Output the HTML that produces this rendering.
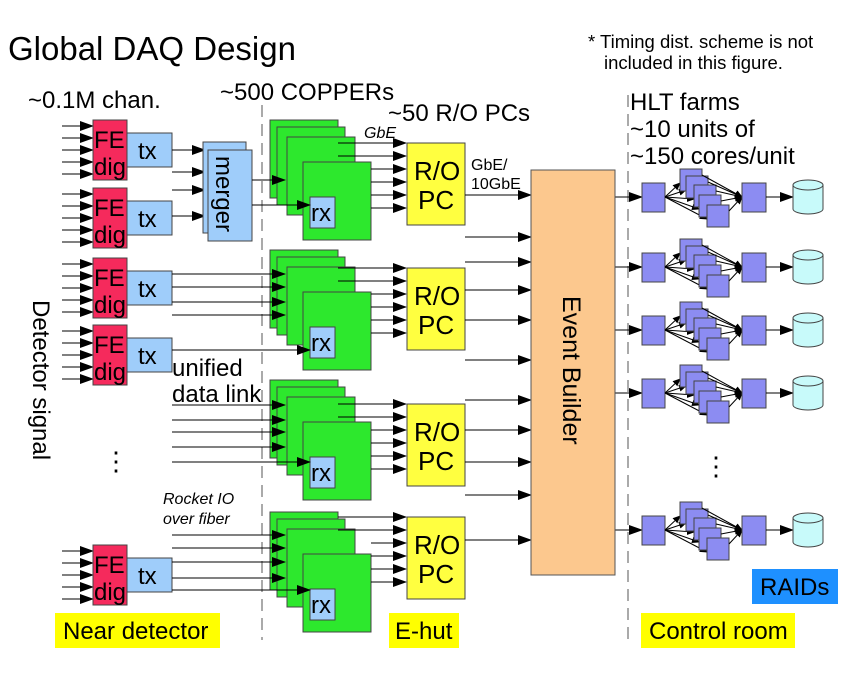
<!DOCTYPE html>
<html><head><meta charset="utf-8"><style>
body{margin:0;background:#fff;width:865px;height:671px;overflow:hidden}
svg{font-family:"Liberation Sans",sans-serif}
</style></head><body>
<svg id="s" width="865" height="671" viewBox="0 0 865 671" xmlns="http://www.w3.org/2000/svg">
<defs><marker id="a" markerWidth="8" markerHeight="8" refX="7" refY="4" orient="auto" markerUnits="userSpaceOnUse"><path d="M0,0.5 L8,4 L0,7.5z" fill="#000"/></marker>
<marker id="b" markerWidth="14" markerHeight="10" refX="13" refY="5" orient="auto" markerUnits="userSpaceOnUse"><path d="M0,0 L14,5 L0,10z" fill="#000"/></marker></defs>
<g id="g"></g>
<text x="8" y="60" font-size="33">Global DAQ Design</text>
<text x="588" y="48" font-size="18.5">* Timing dist. scheme is not</text>
<text x="604" y="69" font-size="18.5">included in this figure.</text>
<text x="28" y="108" font-size="24">~0.1M chan.</text>
<text x="220" y="100" font-size="24">~500 COPPERs</text>
<text x="388" y="121" font-size="24">~50 R/O PCs</text>
<text x="364" y="138" font-size="16" font-style="italic">GbE</text>
<text x="471" y="170" font-size="16">GbE/</text>
<text x="471" y="189" font-size="16">10GbE</text>
<text x="630" y="110" font-size="24">HLT farms</text>
<text x="630" y="137" font-size="24">~10 units of</text>
<text x="630" y="164" font-size="24">~150 cores/unit</text>
<text x="172" y="376" font-size="24">unified</text>
<text x="172" y="402" font-size="24">data link</text>
<text x="163" y="504" font-size="16" font-style="italic">Rocket IO</text>
<text x="163" y="524" font-size="16" font-style="italic">over fiber</text>
<text transform="translate(33,300) rotate(90)" font-size="24">Detector signal</text>
<text x="103" y="470" font-size="26">⋮</text>
<text x="703" y="475" font-size="26">⋮</text>
<rect x="55" y="613" width="165" height="35" fill="#ffff00"/>
<text x="63" y="639" font-size="24">Near detector</text>
<rect x="389" y="613" width="70" height="35" fill="#ffff00"/>
<text x="395" y="639" font-size="24">E-hut</text>
<rect x="641" y="613" width="154" height="35" fill="#ffff00"/>
<text x="649" y="639" font-size="24">Control room</text>
<rect x="752" y="569" width="86" height="35" fill="#1e90ff"/>
<text x="760" y="595" font-size="24">RAIDs</text>
<rect x="531" y="170" width="84" height="405" fill="#fcc88e" stroke="#555"/>
<text transform="translate(563,296) rotate(90)" font-size="25">Event Builder</text>
</svg>
<script>
const g=document.getElementById('g');const NS='http://www.w3.org/2000/svg';
function el(t,a,txt){const e=document.createElementNS(NS,t);for(const k in a)e.setAttribute(k,a[k]);if(txt){e.textContent=txt;}g.appendChild(e);return e;}
function R(x,y,w,h,f){return el('rect',{x,y,width:w,height:h,fill:f,stroke:'#444','stroke-width':1});}
function L(x1,y1,x2,y2,m){const a={x1,y1,x2,y2,stroke:'#000','stroke-width':1};if(m)a['marker-end']='url(#'+m+')';return el('line',a);}
function T(x,y,s,t){el('text',{x,y,'font-size':s},t);}
el('line',{x1:262,y1:105,x2:262,y2:640,stroke:'#555','stroke-dasharray':'12,7'});
el('line',{x1:628,y1:95,x2:628,y2:640,stroke:'#555','stroke-dasharray':'12,7'});
[120,188,258,325,545].forEach(y=>{
 for(let i=0;i<5;i++){L(62,y+6+i*12,93,y+6+i*12,'b');}
 R(93,y,34,60,'#f52a5c');
 T(94,y+28,24,'FE');T(94,y+55,24,'dig');
 R(127,y+13,45,34,'#9fcdfa');T(138,y+39,24,'tx');
});
L(172,150,205,150,'b');L(172,172,205,172,'b');L(172,190,205,190,'b');L(172,216,205,216,'b');
R(203,142,43,91,'#9fcdfa');R(208,150,44,91,'#9fcdfa');
const m=document.createElementNS(NS,'text');m.setAttribute('transform','translate(216,156) rotate(90)');m.setAttribute('font-size','24');m.textContent='merger';g.appendChild(m);
const cy=[120,250,380,512];
cy.forEach((y,k)=>{
 R(270,y,68,78,'#2de82d');R(277,y+7,68,78,'#2de82d');R(287,y+17,68,78,'#2de82d');R(303,y+42,68,78,'#2de82d');
 R(310,y+77,25,31,'#9fcdfa');T(311,y+101,24,'rx');
 const py=[143,268,404,517][k];
 for(let i=0;i<6;i++){L(i<2?338:371,py+i*13,406,py+i*13,'b');}
});
L(252,180,285,180,'b');L(252,205,310,205,'b');
[[172,274,285],[172,287,285],[172,302,285],[172,315,285],[172,350,310]].forEach(a=>L(a[0],a[1],a[2],a[1],'b'));
[405,420,432,447,462].forEach((y,i)=>L(172,y,i==4?310:285,y,'b'));
[535,548,562,578].forEach((y,i)=>L(172,y,285,y,'b'));L(172,590,310,590,'b');
[143,268,404,517].forEach(y=>{R(407,y,58,82,'#ffff40');T(414,y+37,26,'R/O');T(418,y+66,26,'PC');});
[195,237,262,290,320,360,400,430,462,495,540].forEach(y=>L(465,y,531,y,'b'));
[197,267,330,393,530].forEach(y=>{
 L(615,y,642,y,'b');
 R(642,y-14,23,29,'#8c8cf2');
 const cs=[[680,y-22],[686,y-15],[694,y-6],[699,y+4],[707,y+14]];
 cs.forEach(c=>{L(665,y,c[0],c[1]+8,'a');});
 cs.forEach(c=>R(c[0],c[1]-6,22,22,'#8c8cf2'));
 cs.forEach(c=>L(c[0]+22,c[1],742,y,'a'));
 R(742,y-14,24,29,'#8c8cf2');
 L(766,y,793,y,'b');
 el('path',{d:`M793,${y-12} v24 a15,5 0 0 0 30,0 v-24`,fill:'#c8fafa',stroke:'#444'});
 el('ellipse',{cx:808,cy:y-12,rx:15,ry:5,fill:'#c8fafa',stroke:'#444'});
});
</script>
</body></html>
